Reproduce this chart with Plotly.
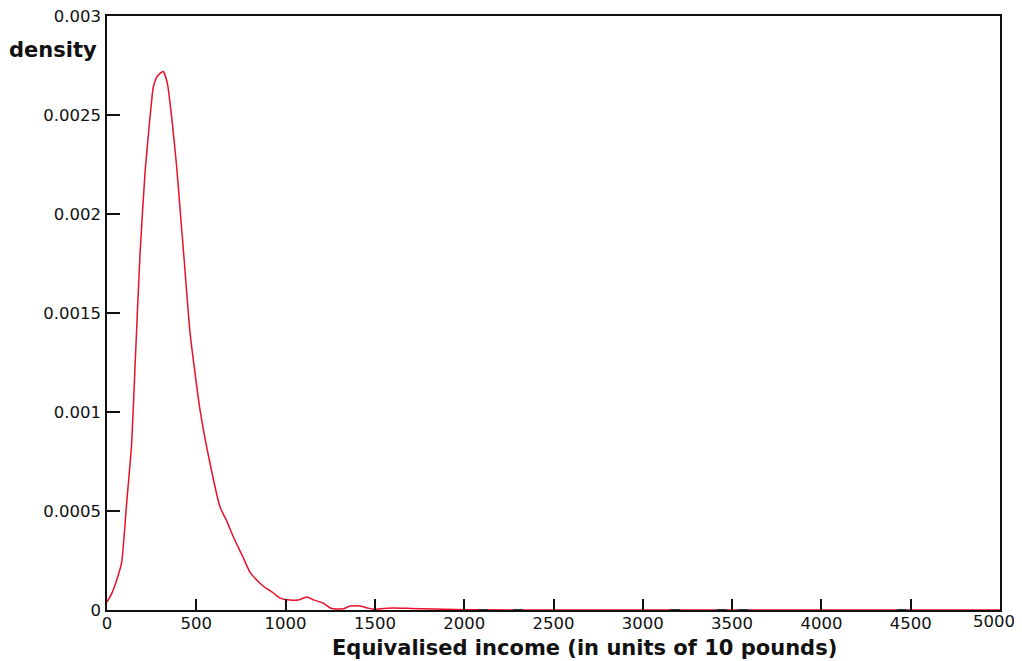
import plotly.graph_objects as go

# Density curve
income = [0, 25, 54, 82, 110, 138, 157, 185, 213, 241, 259, 278, 297, 315, 338, 362,
          390, 413, 431, 465, 521, 577, 633, 670, 707, 760, 801, 840, 875, 925, 969,
          1025, 1070, 1118, 1160, 1211, 1250, 1286, 1330, 1361, 1417, 1460, 1491,
          1550, 1603, 1700, 1827, 1950, 2100, 2500, 3000, 3500, 4000, 4500, 5000]
density = [0.00004, 0.00008, 0.00015, 0.00024, 0.00054, 0.00084, 0.00123, 0.00180,
           0.00221, 0.00249, 0.00264, 0.00269, 0.00271, 0.00272, 0.00266, 0.00249,
           0.00224, 0.00198, 0.00178, 0.00140, 0.00101, 0.00074, 0.00052, 0.00045,
           0.00037, 0.00027, 0.00019, 0.00015, 0.00012, 0.00009, 0.00006,
           0.00005, 0.00005, 0.000066, 0.00005, 0.000035, 0.00001, 0.000005, 0.000008,
           0.00002, 0.00002, 0.00001, 0.000004, 0.000008, 0.00001, 0.000008,
           0.000005, 0.000003, 0.000001, 0.0, 0.0, 0.0, 0.0, 0.0, 0.0]

# Isolated observations marked along the axis
rug_income = [2105, 2301, 3180, 3442, 3562, 4450]
rug_y = [0, 0, 0, 0, 0, 0]

x_ticks = [0, 500, 1000, 1500, 2000, 2500, 3000, 3500, 4000, 4500, 5000]
x_tick_labels = ["0", "500", "1000", "1500", "2000", "2500", "3000", "3500", "4000",
                 "4500", ""]
last_x_label = "5000"
y_ticks = [0, 0.0005, 0.001, 0.0015, 0.002, 0.0025, 0.003]
y_tick_labels = ["0", "0.0005", "0.001", "0.0015", "0.002", "0.0025", "0.003"]

# page body has an 8px margin: the figure starts at (8, 8) on screen
OFF = 8
W, H = 1022 - OFF, 661 - OFF
L, T = 107 - OFF, 16 - OFF
R = W - (1000 - OFF)
B = H - (610 - OFF)

fig = go.Figure()
fig.add_trace(go.Scatter(
    x=income, y=density, mode="lines",
    line=dict(color="#e8102a", width=1.5, shape="spline", smoothing=0.5),
    showlegend=False, hoverinfo="skip"))
fig.add_trace(go.Scatter(
    x=rug_income, y=rug_y, mode="markers",
    marker=dict(symbol="line-ew", size=7, line=dict(width=2, color="#333333")),
    showlegend=False, hoverinfo="skip", cliponaxis=False))

font_family = "DejaVu Sans"
TICK_SIZE = 16.5
fig.update_layout(
    width=W, height=H,
    margin=dict(l=L, r=R, t=T, b=B, autoexpand=False),
    paper_bgcolor="white", plot_bgcolor="white",
    font=dict(family=font_family, color="#111111", size=TICK_SIZE),
    xaxis=dict(range=[0, 5000], tickvals=x_ticks, ticktext=x_tick_labels,
               ticks="inside", ticklen=11,
               tickcolor="#111111", tickwidth=1.5, automargin=False,
               ticklabeloverflow="allow", ticklabelstandoff=-3,
               showline=True, linecolor="#111111", linewidth=1.5, mirror=True,
               showgrid=False, zeroline=False,
               tickfont=dict(family=font_family, size=TICK_SIZE)),
    yaxis=dict(range=[0, 0.003], tickvals=y_ticks, ticktext=y_tick_labels,
               ticks="inside", ticklen=13, tickcolor="#111111", tickwidth=1.5,
               showline=True, linecolor="#111111", linewidth=1.5, mirror=True,
               showgrid=False, zeroline=False, ticklabelstandoff=1, automargin=False,
               ticklabeloverflow="allow",
               tickfont=dict(family=font_family, size=TICK_SIZE)),
)

pw = W - L - R
ph = H - T - B


def to_paper(px, py):
    return (px - OFF - L) / pw, (H - B - (py - OFF)) / ph


# last x tick label, nudged left so it stays inside the visible page
_, ly = to_paper(0, 621)
fig.add_annotation(text=last_x_label, x=x_ticks[-1], xref="x", y=ly, yref="paper",
                   xanchor="center", yanchor="middle", xshift=-6, showarrow=False,
                   font=dict(family=font_family, size=TICK_SIZE))

ax, ay = to_paper(53, 50)
fig.add_annotation(text="<b>density</b>", x=ax, y=ay, xref="paper", yref="paper",
                   xanchor="center", yanchor="middle", showarrow=False,
                   font=dict(family=font_family, size=21))
ax, ay = to_paper(584, 648)
fig.add_annotation(text="<b>Equivalised income (in units of 10 pounds)</b>", x=ax, y=ay,
                   xref="paper", yref="paper", xanchor="center", yanchor="middle",
                   showarrow=False, font=dict(family=font_family, size=21))

fig.write_html("out.html")
